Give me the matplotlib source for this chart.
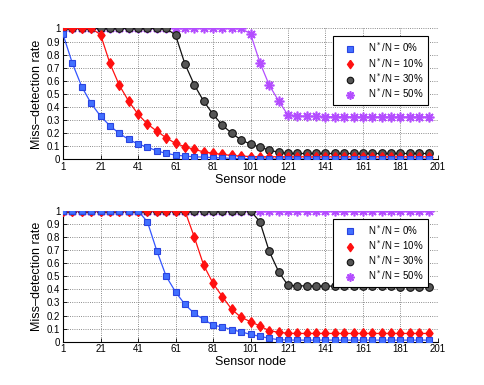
import numpy as np
import matplotlib
matplotlib.use('Agg')
import matplotlib.pyplot as plt
from matplotlib.lines import Line2D

plt.rcParams['font.family'] = ['Liberation Sans', 'DejaVu Sans']

# Sensor node index (every 5th node)
nodes = [1, 6, 11, 16, 21, 26, 31, 36, 41, 46, 51, 56, 61, 66, 71, 76, 81, 86, 91, 96,
         101, 106, 111, 116, 121, 126, 131, 136, 141, 146, 151, 156, 161, 166, 171, 176,
         181, 186, 191, 196]

labels = ['N$^*$/N = 0%', 'N$^*$/N = 10%', 'N$^*$/N = 30%', 'N$^*$/N = 50%']

# Top panel
top_0 = [0.955, 0.733, 0.555, 0.427, 0.33, 0.257, 0.198, 0.153, 0.117, 0.094, 0.065, 0.046,
         0.033, 0.025, 0.02, 0.017, 0.014, 0.011, 0.008, 0.006, 0.005, 0.004, 0.004, 0.003,
         0.003, 0.003, 0.003, 0.003, 0.003, 0.003, 0.003, 0.003, 0.003, 0.003, 0.003, 0.003,
         0.003, 0.003, 0.003, 0.003]
top_10 = [1, 1, 1, 1, 0.954, 0.733, 0.567, 0.445, 0.345, 0.27, 0.216, 0.165, 0.122, 0.097,
          0.076, 0.058, 0.046, 0.038, 0.03, 0.025, 0.022, 0.02, 0.02, 0.02, 0.02, 0.02, 0.02,
          0.02, 0.02, 0.02, 0.02, 0.02, 0.02, 0.02, 0.02, 0.02, 0.02, 0.02, 0.02, 0.02]
top_30 = [1, 1, 1, 1, 1, 1, 1, 1, 1, 1, 1, 1, 0.95, 0.73, 0.57, 0.445, 0.345, 0.26, 0.2,
          0.148, 0.117, 0.094, 0.071, 0.054, 0.046, 0.045, 0.045, 0.045, 0.045, 0.045, 0.045,
          0.045, 0.045, 0.045, 0.045, 0.045, 0.045, 0.045, 0.045, 0.045]
top_50 = [1, 1, 1, 1, 1, 1, 1, 1, 1, 1, 1, 1, 1, 1, 1, 1, 1, 1, 1, 1, 0.96, 0.74, 0.567,
          0.447, 0.338, 0.333, 0.33, 0.328, 0.327, 0.326, 0.326, 0.325, 0.325, 0.325, 0.325,
          0.325, 0.325, 0.325, 0.325, 0.325]

# Bottom panel
bot_0 = [1, 1, 1, 1, 1, 1, 1, 1, 1, 0.916, 0.695, 0.5, 0.38, 0.285, 0.216, 0.17, 0.127,
         0.112, 0.092, 0.075, 0.056, 0.041, 0.026, 0.015, 0.013, 0.012, 0.012, 0.012, 0.012,
         0.012, 0.012, 0.012, 0.012, 0.012, 0.012, 0.012, 0.012, 0.012, 0.012, 0.012]
bot_10 = [1, 1, 1, 1, 1, 1, 1, 1, 1, 1, 1, 1, 1, 1, 0.8, 0.585, 0.446, 0.344, 0.247, 0.186,
          0.153, 0.12, 0.084, 0.072, 0.064, 0.063, 0.063, 0.063, 0.063, 0.063, 0.063, 0.063,
          0.063, 0.063, 0.063, 0.063, 0.063, 0.063, 0.063, 0.063]
bot_30 = [1, 1, 1, 1, 1, 1, 1, 1, 1, 1, 1, 1, 1, 1, 1, 1, 1, 1, 1, 1, 1, 0.916, 0.69,
          0.535, 0.43, 0.427, 0.426, 0.425, 0.425, 0.424, 0.424, 0.423, 0.423, 0.422, 0.422,
          0.422, 0.421, 0.421, 0.42, 0.42]
bot_50 = [1] * 40

xticks = [1, 21, 41, 61, 81, 101, 121, 141, 161, 181, 201]
yticks = [0, 0.1, 0.2, 0.3, 0.4, 0.5, 0.6, 0.7, 0.8, 0.9, 1]
ytick_labels = ['0', '0.1', '0.2', '0.3', '0.4', '0.5', '0.6', '0.7', '0.8', '0.9', '1']

diamond = [(0, 1), (0.72, 0), (0, -1), (-0.72, 0), (0, 1)]
styles = [
    dict(color='#3355ff', marker='s', markersize=4.3, markerfacecolor='#4270ff',
         markeredgecolor='#2a44e0', markeredgewidth=0.8),
    dict(color='#ff1010', marker=diamond, markersize=7, markerfacecolor='#ff1010',
         markeredgecolor='#ff1010'),
    dict(color='#111111', marker='o', markersize=5.5, markerfacecolor='#555555',
         markeredgecolor='#111111', markeredgewidth=0.8),
    dict(color='#b44dff', marker=(8, 2, 0), markersize=7, markeredgecolor='#b44dff',
         markeredgewidth=1.2),
]

fig = plt.figure(figsize=(4.85, 3.85), dpi=100)
ax1 = fig.add_axes([0.130, 0.586, 0.773, 0.340])
ax2 = fig.add_axes([0.130, 0.1125, 0.773, 0.340])

panels = [(ax1, [top_0, top_10, top_30, top_50]),
          (ax2, [bot_0, bot_10, bot_30, bot_50])]

for ax, series in panels:
    # 50% first, 0% last so the lower curves sit on top
    for k in [3, 2, 1, 0]:
        ax.plot(nodes, series[k], linewidth=0.9, zorder=3, **styles[k])
    ax.set_xlim(1, 201)
    ax.set_ylim(0, 1)
    ax.set_xticks(xticks)
    ax.set_yticks(yticks)
    ax.set_yticklabels(ytick_labels)
    ax.tick_params(direction='in', length=3, width=0.6, labelsize=7, pad=2)
    ax.grid(True, linestyle=':', color='#666666', linewidth=0.6)
    ax.spines['top'].set_visible(False)
    ax.spines['right'].set_visible(False)
    ax.spines['left'].set_linewidth(0.8)
    ax.spines['bottom'].set_linewidth(0.8)
    ax.set_xlabel('Sensor node', fontsize=9, labelpad=1)
    ax.set_ylabel('Miss\u2013detection rate', fontsize=9, labelpad=3)
    ax.set_axisbelow(True)

    handles = [Line2D([], [], linestyle='none', **st) for st in styles]
    leg = ax.legend(handles, labels, loc='upper right', bbox_to_anchor=(0.9725, 0.941),
                    fontsize=7, fancybox=False, framealpha=1, edgecolor='black',
                    borderpad=0.45, labelspacing=0.15, handlelength=2.6,
                    handletextpad=0.5, borderaxespad=0, markerscale=0.85)
    leg.get_frame().set_linewidth(0.8)

fig.savefig('out.png', dpi=100)
